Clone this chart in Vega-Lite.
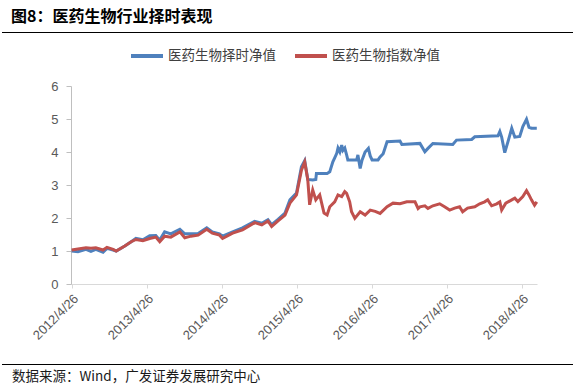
{
  "$schema": "https://vega.github.io/schema/vega-lite/v6.json",
  "padding": {"left": 2, "top": 9, "right": 0, "bottom": 0},
  "spacing": 5,
  "resolve": {"legend": {"color": "independent"}},
  "config": {"view": {"stroke": null}, "font": "Liberation Sans"},
  "vconcat": [
    {
      "width": 571,
      "height": 1,
      "view": {"fill": "#000000", "stroke": null},
      "title": {"text": "图8：医药生物行业择时表现", "anchor": "start", "font": "Noto Sans CJK SC", "fontSize": 16, "fontWeight": "bold", "color": "#000000", "offset": 7, "dx": 9},
      "data": {"values": []},
      "mark": "rule",
      "encoding": {}
    },
    {
      "width": 535,
      "height": 198,
      "data": {"values": [
        {"date": "2012-04-26", "n": "医药生物择时净值", "v": 1.00},
        {"date": "2012-05-27", "n": "医药生物择时净值", "v": 0.98},
        {"date": "2012-07-05", "n": "医药生物择时净值", "v": 1.05},
        {"date": "2012-07-29", "n": "医药生物择时净值", "v": 0.99},
        {"date": "2012-08-22", "n": "医药生物择时净值", "v": 1.05},
        {"date": "2012-09-26", "n": "医药生物择时净值", "v": 0.96},
        {"date": "2012-10-15", "n": "医药生物择时净值", "v": 1.08},
        {"date": "2012-11-14", "n": "医药生物择时净值", "v": 1.03},
        {"date": "2012-11-29", "n": "医药生物择时净值", "v": 1.00},
        {"date": "2013-01-10", "n": "医药生物择时净值", "v": 1.15},
        {"date": "2013-02-10", "n": "医药生物择时净值", "v": 1.28},
        {"date": "2013-03-05", "n": "医药生物择时净值", "v": 1.38},
        {"date": "2013-04-08", "n": "医药生物择时净值", "v": 1.34},
        {"date": "2013-05-11", "n": "医药生物择时净值", "v": 1.46},
        {"date": "2013-06-10", "n": "医药生物择时净值", "v": 1.47},
        {"date": "2013-06-29", "n": "医药生物择时净值", "v": 1.33},
        {"date": "2013-07-23", "n": "医药生物择时净值", "v": 1.58},
        {"date": "2013-08-22", "n": "医药生物择时净值", "v": 1.52},
        {"date": "2013-10-05", "n": "医药生物择时净值", "v": 1.66},
        {"date": "2013-10-29", "n": "医药生物择时净值", "v": 1.52},
        {"date": "2013-11-28", "n": "医药生物择时净值", "v": 1.52},
        {"date": "2014-01-02", "n": "医药生物择时净值", "v": 1.53},
        {"date": "2014-02-13", "n": "医药生物择时净值", "v": 1.70},
        {"date": "2014-03-12", "n": "医药生物择时净值", "v": 1.58},
        {"date": "2014-04-16", "n": "医药生物择时净值", "v": 1.52},
        {"date": "2014-05-01", "n": "医药生物择时净值", "v": 1.45},
        {"date": "2014-06-19", "n": "医药生物择时净值", "v": 1.58},
        {"date": "2014-08-06", "n": "医药生物择时净值", "v": 1.70},
        {"date": "2014-10-04", "n": "医药生物择时净值", "v": 1.90},
        {"date": "2014-11-08", "n": "医药生物择时净值", "v": 1.84},
        {"date": "2014-12-08", "n": "医药生物择时净值", "v": 1.95},
        {"date": "2014-12-26", "n": "医药生物择时净值", "v": 1.80},
        {"date": "2015-01-26", "n": "医药生物择时净值", "v": 1.96},
        {"date": "2015-03-01", "n": "医药生物择时净值", "v": 2.15},
        {"date": "2015-03-25", "n": "医药生物择时净值", "v": 2.55},
        {"date": "2015-04-26", "n": "医药生物择时净值", "v": 2.76},
        {"date": "2015-05-20", "n": "医药生物择时净值", "v": 3.55},
        {"date": "2015-06-05", "n": "医药生物择时净值", "v": 3.74},
        {"date": "2015-06-20", "n": "医药生物择时净值", "v": 3.17},
        {"date": "2015-07-14", "n": "医药生物择时净值", "v": 3.15},
        {"date": "2015-07-29", "n": "医药生物择时净值", "v": 3.17},
        {"date": "2015-08-01", "n": "医药生物择时净值", "v": 3.35},
        {"date": "2015-09-22", "n": "医药生物择时净值", "v": 3.35},
        {"date": "2015-10-05", "n": "医药生物择时净值", "v": 3.40},
        {"date": "2015-10-20", "n": "医药生物择时净值", "v": 3.70},
        {"date": "2015-10-29", "n": "医药生物择时净值", "v": 3.82},
        {"date": "2015-11-08", "n": "医药生物择时净值", "v": 3.96},
        {"date": "2015-11-14", "n": "医药生物择时净值", "v": 4.12},
        {"date": "2015-11-23", "n": "医药生物择时净值", "v": 4.00},
        {"date": "2015-12-02", "n": "医药生物择时净值", "v": 4.21},
        {"date": "2015-12-08", "n": "医药生物择时净值", "v": 4.05},
        {"date": "2015-12-17", "n": "医药生物择时净值", "v": 4.12},
        {"date": "2015-12-26", "n": "医药生物择时净值", "v": 3.91},
        {"date": "2016-01-01", "n": "医药生物择时净值", "v": 3.76},
        {"date": "2016-02-13", "n": "医药生物择时净值", "v": 3.76},
        {"date": "2016-02-19", "n": "医药生物择时净值", "v": 3.91},
        {"date": "2016-03-01", "n": "医药生物择时净值", "v": 3.50},
        {"date": "2016-03-10", "n": "医药生物择时净值", "v": 3.75},
        {"date": "2016-03-25", "n": "医药生物择时净值", "v": 4.00},
        {"date": "2016-04-10", "n": "医药生物择时净值", "v": 4.11},
        {"date": "2016-04-19", "n": "医药生物择时净值", "v": 3.88},
        {"date": "2016-04-28", "n": "医药生物择时净值", "v": 3.76},
        {"date": "2016-05-27", "n": "医药生物择时净值", "v": 3.76},
        {"date": "2016-06-06", "n": "医药生物择时净值", "v": 3.85},
        {"date": "2016-06-21", "n": "医药生物择时净值", "v": 3.95},
        {"date": "2016-07-10", "n": "医药生物择时净值", "v": 4.31},
        {"date": "2016-09-11", "n": "医药生物择时净值", "v": 4.33},
        {"date": "2016-09-20", "n": "医药生物择时净值", "v": 4.23},
        {"date": "2016-12-17", "n": "医药生物择时净值", "v": 4.26},
        {"date": "2017-01-10", "n": "医药生物择时净值", "v": 4.01},
        {"date": "2017-01-25", "n": "医药生物择时净值", "v": 4.11},
        {"date": "2017-02-18", "n": "医药生物择时净值", "v": 4.26},
        {"date": "2017-05-26", "n": "医药生物择时净值", "v": 4.23},
        {"date": "2017-06-13", "n": "医药生物择时净值", "v": 4.36},
        {"date": "2017-08-26", "n": "医药生物择时净值", "v": 4.38},
        {"date": "2017-09-10", "n": "医药生物择时净值", "v": 4.46},
        {"date": "2018-01-01", "n": "医药生物择时净值", "v": 4.49},
        {"date": "2018-01-10", "n": "医药生物择时净值", "v": 4.62},
        {"date": "2018-01-19", "n": "医药生物择时净值", "v": 4.45},
        {"date": "2018-02-03", "n": "医药生物择时净值", "v": 3.98},
        {"date": "2018-02-18", "n": "医药生物择时净值", "v": 4.30},
        {"date": "2018-03-09", "n": "医药生物择时净值", "v": 4.72},
        {"date": "2018-03-24", "n": "医药生物择时净值", "v": 4.45},
        {"date": "2018-04-17", "n": "医药生物择时净值", "v": 4.47},
        {"date": "2018-05-02", "n": "医药生物择时净值", "v": 4.77},
        {"date": "2018-05-20", "n": "医药生物择时净值", "v": 4.99},
        {"date": "2018-06-01", "n": "医药生物择时净值", "v": 4.75},
        {"date": "2018-06-13", "n": "医药生物择时净值", "v": 4.72},
        {"date": "2018-07-09", "n": "医药生物择时净值", "v": 4.72},
        {"date": "2012-04-26", "n": "医药生物指数净值", "v": 1.03},
        {"date": "2012-05-27", "n": "医药生物指数净值", "v": 1.06},
        {"date": "2012-07-05", "n": "医药生物指数净值", "v": 1.10},
        {"date": "2012-07-29", "n": "医药生物指数净值", "v": 1.08},
        {"date": "2012-08-22", "n": "医药生物指数净值", "v": 1.10},
        {"date": "2012-09-26", "n": "医药生物指数净值", "v": 1.03},
        {"date": "2012-10-15", "n": "医药生物指数净值", "v": 1.11},
        {"date": "2012-11-14", "n": "医药生物指数净值", "v": 1.05},
        {"date": "2012-11-29", "n": "医药生物指数净值", "v": 1.00},
        {"date": "2013-01-10", "n": "医药生物指数净值", "v": 1.15},
        {"date": "2013-02-10", "n": "医药生物指数净值", "v": 1.28},
        {"date": "2013-03-05", "n": "医药生物指数净值", "v": 1.35},
        {"date": "2013-04-08", "n": "医药生物指数净值", "v": 1.31},
        {"date": "2013-05-11", "n": "医药生物指数净值", "v": 1.38},
        {"date": "2013-06-10", "n": "医药生物指数净值", "v": 1.42},
        {"date": "2013-06-29", "n": "医药生物指数净值", "v": 1.28},
        {"date": "2013-07-23", "n": "医药生物指数净值", "v": 1.45},
        {"date": "2013-08-22", "n": "医药生物指数净值", "v": 1.42},
        {"date": "2013-10-05", "n": "医药生物指数净值", "v": 1.58},
        {"date": "2013-10-29", "n": "医药生物指数净值", "v": 1.40},
        {"date": "2013-11-28", "n": "医药生物指数净值", "v": 1.45},
        {"date": "2014-01-02", "n": "医药生物指数净值", "v": 1.48},
        {"date": "2014-02-13", "n": "医药生物指数净值", "v": 1.66},
        {"date": "2014-03-12", "n": "医药生物指数净值", "v": 1.54},
        {"date": "2014-04-16", "n": "医药生物指数净值", "v": 1.48},
        {"date": "2014-05-01", "n": "医药生物指数净值", "v": 1.38},
        {"date": "2014-06-19", "n": "医药生物指数净值", "v": 1.54},
        {"date": "2014-08-06", "n": "医药生物指数净值", "v": 1.64},
        {"date": "2014-10-04", "n": "医药生物指数净值", "v": 1.86},
        {"date": "2014-11-08", "n": "医药生物指数净值", "v": 1.79},
        {"date": "2014-12-08", "n": "医药生物指数净值", "v": 1.91},
        {"date": "2014-12-26", "n": "医药生物指数净值", "v": 1.74},
        {"date": "2015-01-26", "n": "医药生物指数净值", "v": 1.91},
        {"date": "2015-03-01", "n": "医药生物指数净值", "v": 2.09},
        {"date": "2015-03-25", "n": "医药生物指数净值", "v": 2.45},
        {"date": "2015-04-26", "n": "医药生物指数净值", "v": 2.70},
        {"date": "2015-05-20", "n": "医药生物指数净值", "v": 3.45},
        {"date": "2015-06-05", "n": "医药生物指数净值", "v": 3.70},
        {"date": "2015-06-20", "n": "医药生物指数净值", "v": 3.15},
        {"date": "2015-06-29", "n": "医药生物指数净值", "v": 2.40},
        {"date": "2015-07-14", "n": "医药生物指数净值", "v": 2.85},
        {"date": "2015-07-29", "n": "医药生物指数净值", "v": 2.55},
        {"date": "2015-08-17", "n": "医药生物指数净值", "v": 2.70},
        {"date": "2015-09-07", "n": "医药生物指数净值", "v": 2.15},
        {"date": "2015-09-22", "n": "医药生物指数净值", "v": 2.09},
        {"date": "2015-10-05", "n": "医药生物指数净值", "v": 2.34},
        {"date": "2015-10-29", "n": "医药生物指数净值", "v": 2.49},
        {"date": "2015-11-14", "n": "医药生物指数净值", "v": 2.70},
        {"date": "2015-12-02", "n": "医药生物指数净值", "v": 2.65},
        {"date": "2015-12-17", "n": "医药生物指数净值", "v": 2.80},
        {"date": "2015-12-26", "n": "医药生物指数净值", "v": 2.75},
        {"date": "2016-01-10", "n": "医药生物指数净值", "v": 2.49},
        {"date": "2016-01-19", "n": "医药生物指数净值", "v": 2.19},
        {"date": "2016-02-04", "n": "医药生物指数净值", "v": 1.99},
        {"date": "2016-03-01", "n": "医药生物指数净值", "v": 2.19},
        {"date": "2016-03-25", "n": "医药生物指数净值", "v": 2.09},
        {"date": "2016-04-19", "n": "医药生物指数净值", "v": 2.24},
        {"date": "2016-05-13", "n": "医药生物指数净值", "v": 2.20},
        {"date": "2016-06-06", "n": "医药生物指数净值", "v": 2.14},
        {"date": "2016-07-10", "n": "医药生物指数净值", "v": 2.34},
        {"date": "2016-08-08", "n": "医药生物指数净值", "v": 2.45},
        {"date": "2016-09-11", "n": "医药生物指数净值", "v": 2.43},
        {"date": "2016-10-14", "n": "医药生物指数净值", "v": 2.49},
        {"date": "2016-11-23", "n": "医药生物指数净值", "v": 2.49},
        {"date": "2016-12-08", "n": "医药生物指数净值", "v": 2.29},
        {"date": "2016-12-17", "n": "医药生物指数净值", "v": 2.34},
        {"date": "2017-01-10", "n": "医药生物指数净值", "v": 2.37},
        {"date": "2017-01-25", "n": "医药生物指数净值", "v": 2.29},
        {"date": "2017-02-18", "n": "医药生物指数净值", "v": 2.37},
        {"date": "2017-03-23", "n": "医药生物指数净值", "v": 2.43},
        {"date": "2017-04-16", "n": "医药生物指数净值", "v": 2.34},
        {"date": "2017-05-11", "n": "医药生物指数净值", "v": 2.24},
        {"date": "2017-06-04", "n": "医药生物指数净值", "v": 2.30},
        {"date": "2017-06-28", "n": "医药生物指数净值", "v": 2.34},
        {"date": "2017-07-13", "n": "医药生物指数净值", "v": 2.19},
        {"date": "2017-08-06", "n": "医药生物指数净值", "v": 2.30},
        {"date": "2017-09-10", "n": "医药生物指数净值", "v": 2.34},
        {"date": "2017-10-04", "n": "医药生物指数净值", "v": 2.43},
        {"date": "2017-10-28", "n": "医药生物指数净值", "v": 2.49},
        {"date": "2017-11-12", "n": "医药生物指数净值", "v": 2.55},
        {"date": "2017-12-01", "n": "医药生物指数净值", "v": 2.37},
        {"date": "2017-12-26", "n": "医药生物指数净值", "v": 2.43},
        {"date": "2018-01-10", "n": "医药生物指数净值", "v": 2.49},
        {"date": "2018-01-19", "n": "医药生物指数净值", "v": 2.24},
        {"date": "2018-02-08", "n": "医药生物指数净值", "v": 2.45},
        {"date": "2018-03-09", "n": "医药生物指数净值", "v": 2.55},
        {"date": "2018-03-24", "n": "医药生物指数净值", "v": 2.60},
        {"date": "2018-04-08", "n": "医药生物指数净值", "v": 2.50},
        {"date": "2018-05-02", "n": "医药生物指数净值", "v": 2.65},
        {"date": "2018-05-20", "n": "医药生物指数净值", "v": 2.83},
        {"date": "2018-06-01", "n": "医药生物指数净值", "v": 2.70},
        {"date": "2018-06-13", "n": "医药生物指数净值", "v": 2.55},
        {"date": "2018-06-28", "n": "医药生物指数净值", "v": 2.39},
        {"date": "2018-07-09", "n": "医药生物指数净值", "v": 2.49}
      ]},
      "mark": {"type": "line", "strokeWidth": 3},
      "encoding": {
        "x": {
          "field": "date", "type": "temporal",
          "scale": {"type": "utc", "range": [69, 535], "domain": [{"year": 2012, "month": 4, "date": 23, "utc": true}, {"year": 2018, "month": 7, "date": 10, "utc": true}]},
          "axis": {
            "title": null, "grid": false,
            "values": [
              {"year": 2012, "month": 4, "date": 26, "utc": true},
              {"year": 2013, "month": 4, "date": 26, "utc": true},
              {"year": 2014, "month": 4, "date": 26, "utc": true},
              {"year": 2015, "month": 4, "date": 26, "utc": true},
              {"year": 2016, "month": 4, "date": 26, "utc": true},
              {"year": 2017, "month": 4, "date": 26, "utc": true},
              {"year": 2018, "month": 4, "date": 26, "utc": true}
            ],
            "labelExpr": "utcFormat(datum.value, '%Y/%-m/%-d')",
            "labelAngle": -45, "labelFontSize": 13, "labelColor": "#595959", "labelFont": "Liberation Sans",
            "domainColor": "#d9d9d9", "tickColor": "#d9d9d9", "tickSize": 4, "labelPadding": 4,
            "minExtent": 75, "maxExtent": 75
          }
        },
        "y": {
          "field": "v", "type": "quantitative",
          "scale": {"domain": [0, 6], "nice": false},
          "axis": {
            "title": null, "grid": false, "values": [0, 1, 2, 3, 4, 5, 6], "offset": -69,
            "labelFontSize": 13, "labelColor": "#595959", "labelFont": "Liberation Sans",
            "domainColor": "#bfbfbf", "tickColor": "#bfbfbf", "tickSize": 5, "labelPadding": 8
          }
        },
        "color": {
          "field": "n", "type": "nominal",
          "scale": {"domain": ["医药生物择时净值", "医药生物指数净值"], "range": ["#4F81BD", "#C0504D"]},
          "legend": {
            "orient": "none", "legendX": 127, "legendY": -48, "direction": "horizontal", "title": null,
            "symbolType": "stroke", "symbolSize": 1024, "symbolStrokeWidth": 4,
            "labelFont": "Noto Sans CJK SC", "labelFontSize": 13.5, "labelColor": "#404040",
            "labelOffset": 3, "columnPadding": 11, "padding": 0
          }
        }
      }
    },
    {
      "width": 571,
      "height": 1,
      "view": {"fill": "#000000", "stroke": null},
      "title": {"text": "数据来源：Wind，广发证券发展研究中心", "orient": "bottom", "anchor": "start", "font": "Noto Sans CJK SC", "fontSize": 13.5, "fontWeight": "normal", "color": "#1a1a1a", "offset": 5, "dx": 10},
      "data": {"values": []},
      "mark": "rule",
      "encoding": {}
    }
  ]
}
